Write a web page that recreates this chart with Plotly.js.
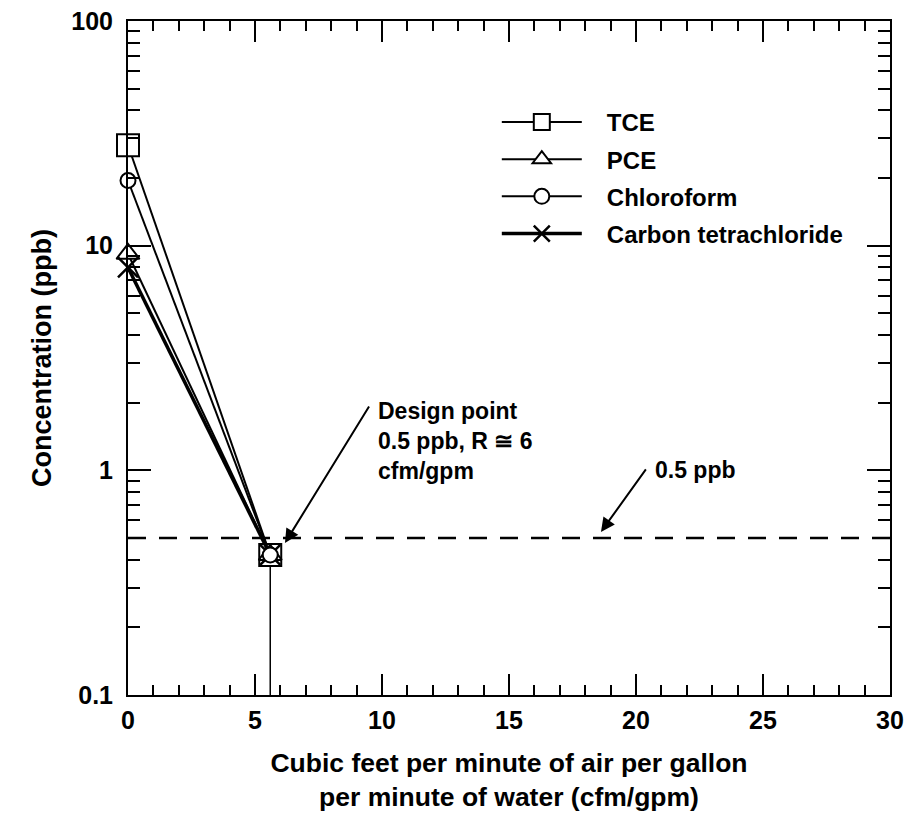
<!DOCTYPE html>
<html>
<head>
<meta charset="utf-8">
<script src="https://cdn.plot.ly/plotly-3.0.1.min.js"></script>
<style>html,body{margin:0;padding:0;background:#fff;}#chart{width:909px;height:817px;}</style>
</head>
<body>
<div id="chart"></div>
<script>
// Data
const seriesNames = ["TCE", "PCE", "Chloroform", "Carbon tetrachloride"];
const airToWater = [0, 5.6];                 // cfm/gpm
const tceConc = [28, 0.42];                  // ppb
const pceConc = [9.2, 0.42];
const chloroformConc = [19.5, 0.42];
const carbonTetConc = [8.0, 0.42];
const targetConc = 0.5;                      // ppb design target
const xRange = [0, 30];
const yRange = [0.1, 100];
const xTickVals = [0, 5, 10, 15, 20, 25, 30];
const yTickVals = [0.1, 1, 10, 100];
const yTickText = ["0.1", "1", "10", "100"];

const FONT = '"Liberation Sans", Arial, Helvetica, sans-serif';
const BOLD = {family: FONT, color: '#000', weight: 'bold'};
const PAD = '\u00a0\u00a0\u00a0';

function series(name, y, symbol, size, lw, mlw, rank) {
  return {
    x: airToWater, y: y, name: PAD + name, type: 'scatter', mode: 'lines+markers',
    legendgroup: name, legendrank: rank, cliponaxis: false,
    line: {color: '#000', width: lw},
    marker: {symbol: symbol, size: size, color: symbol.indexOf('x') === 0 ? '#000' : '#fff',
             line: {color: '#000', width: mlw}}
  };
}

const traces = [
  // drop line from the design point to the x axis
  {x: [airToWater[1], airToWater[1]], y: [yRange[0], tceConc[1]], mode: 'lines', type: 'scatter',
   showlegend: false, hoverinfo: 'skip', line: {color: '#000', width: 1.5}},
  // 0.5 ppb target line
  {x: xRange, y: [targetConc, targetConc], mode: 'lines', type: 'scatter', showlegend: false,
   hoverinfo: 'skip', line: {color: '#000', width: 2.5, dash: '18px,13px'}},
  series(seriesNames[0], tceConc, 'square', 22, 2, 2, 1),
  series(seriesNames[1], pceConc, 'triangle-up', 20, 2, 2, 2),
  series(seriesNames[3], carbonTetConc, 'x-thin-open', 20, 3.5, 2.5, 4),
  series(seriesNames[2], chloroformConc, 'circle', 15, 2, 2, 3)
];

const layout = {
  width: 909, height: 817,
  margin: {l: 128, r: 19, t: 21, b: 122},
  paper_bgcolor: '#fff', plot_bgcolor: '#fff',
  font: {family: FONT, color: '#000', size: 22},
  showlegend: true,
  legend: {x: 0.484, y: 0.883, xanchor: 'left', yanchor: 'top', bgcolor: 'rgba(0,0,0,0)',
           borderwidth: 0, font: {family: FONT, size: 24, color: '#000', weight: 'bold'},
           itemwidth: 80, tracegroupgap: 3, itemsizing: 'trace', traceorder: 'grouped'},
  xaxis: {
    range: xRange, tickvals: xTickVals, showgrid: false, zeroline: false,
    showline: true, linecolor: '#000', linewidth: 2, mirror: 'ticks',
    ticks: 'inside', ticklen: 21, tickwidth: 2, tickcolor: '#000',
    minor: {dtick: 1, ticks: 'inside', ticklen: 10, tickwidth: 2, tickcolor: '#000', showgrid: false},
    tickfont: Object.assign({size: 25}, BOLD), ticklabelstandoff: 2,
    title: {text: 'Cubic feet per minute of air per gallon<br>per minute of water (cfm/gpm)',
            font: Object.assign({size: 26.5}, BOLD), standoff: 20}
  },
  yaxis: {
    type: 'log', range: [Math.log10(yRange[0]), Math.log10(yRange[1])],
    tickvals: yTickVals, ticktext: yTickText, showgrid: false, zeroline: false,
    showline: true, linecolor: '#000', linewidth: 2, mirror: 'ticks',
    ticks: 'inside', ticklen: 23, tickwidth: 2, tickcolor: '#000',
    minor: {dtick: 'D1', ticks: 'inside', ticklen: 12, tickwidth: 2, tickcolor: '#000', showgrid: false},
    tickfont: Object.assign({size: 25}, BOLD), ticklabelstandoff: 8,
    title: {text: 'Concentration (ppb)', font: Object.assign({size: 27}, BOLD), standoff: 12}
  },
  annotations: [
    {x: airToWater[1] + 0.58, y: Math.log10(0.475), xref: 'x', yref: 'y', text: '',
     showarrow: true, arrowhead: 2, arrowsize: 1.4, arrowwidth: 2, arrowcolor: '#000',
     ax: 85, ay: -138},
    {x: 9.76, y: 0.33, xref: 'x', yref: 'y', xanchor: 'left', yanchor: 'top', align: 'left',
     showarrow: false, text: 'Design point<br>0.5 ppb, R \u2245 6<br>cfm/gpm',
     font: Object.assign({size: 23}, BOLD)},
    {x: 18.62, y: Math.log10(targetConc) + 0.027, xref: 'x', yref: 'y', text: '',
     showarrow: true, arrowhead: 2, arrowsize: 1.4, arrowwidth: 2, arrowcolor: '#000',
     ax: 46, ay: -64},
    {x: 20.67, y: 0.0, xref: 'x', yref: 'y', xanchor: 'left', yanchor: 'middle',
     showarrow: false, text: '0.5 ppb', font: Object.assign({size: 23}, BOLD)}
  ]
};

Plotly.newPlot('chart', traces, layout, {displayModeBar: false, staticPlot: true});
</script>
</body>
</html>
